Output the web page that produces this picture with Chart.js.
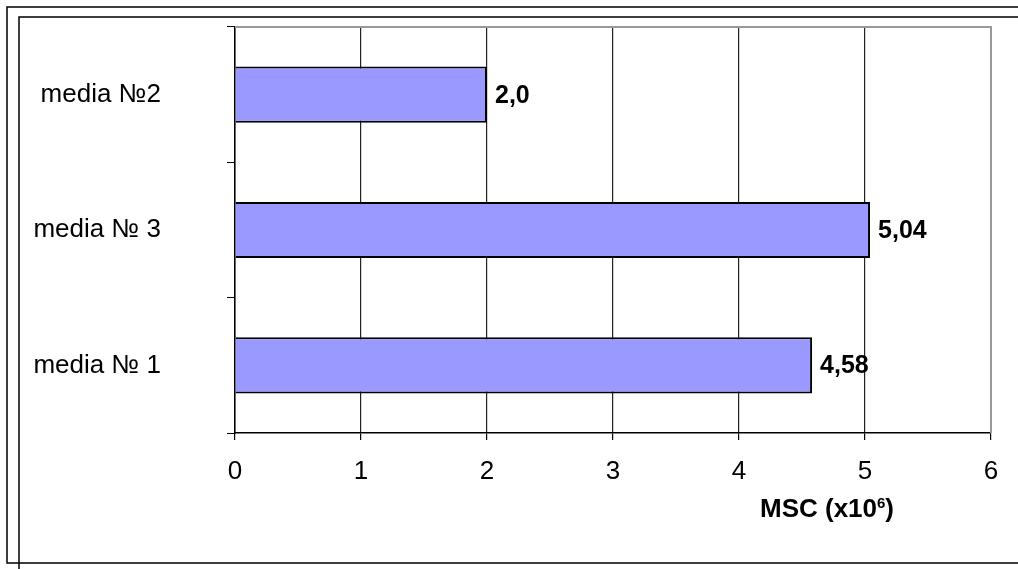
<!DOCTYPE html>
<html lang="en">
<head>
    <meta charset="UTF-8">
    <title>MSC by media</title>
    <script src="https://cdn.jsdelivr.net/npm/chart.js"></script>
    <style>
        body {
            margin: 0;
            background-color: #ffffff;
        }
        #mscChart {
            display: block;
        }
    </style>
</head>
<body>
    <canvas id="mscChart" width="1018" height="569"></canvas>

<script>
    // values (top to bottom)
    const categories = ['media №2', 'media № 3', 'media № 1'];
    const mscValues = [2.0, 5.04, 4.58];
    const valueLabels = ['2,0', '5,04', '4,58'];
    const xMin = 0;
    const xMax = 6;
    const xStep = 1;

    const FONT = "'Liberation Sans', Arial, sans-serif";

    // frames around the chart, value labels and axis title
    const decorations = {
        id: 'decorations',
        afterDatasetsDraw(chart) {
            const ctx = chart.ctx;
            const meta = chart.getDatasetMeta(0);
            ctx.save();
            ctx.font = 'bold 25px ' + FONT;
            ctx.fillStyle = '#000';
            ctx.textBaseline = 'middle';
            ctx.textAlign = 'left';
            meta.data.forEach((bar, i) => {
                ctx.fillText(valueLabels[i], bar.x + 8, bar.y + 1);
            });
            ctx.restore();
        },
        afterDraw(chart) {
            const ctx = chart.ctx;
            const area = chart.chartArea;
            ctx.save();

            // plot area border, top and right
            ctx.strokeStyle = '#999';
            ctx.lineWidth = 2;
            ctx.beginPath();
            ctx.moveTo(area.left, area.top);
            ctx.lineTo(area.right, area.top);
            ctx.lineTo(area.right, area.bottom);
            ctx.stroke();

            // outer frames
            ctx.strokeStyle = '#000';
            ctx.lineWidth = 1.5;
            ctx.beginPath();
            ctx.moveTo(1018, 7);
            ctx.lineTo(7, 7);
            ctx.lineTo(7, 563);
            ctx.lineTo(1018, 563);
            ctx.moveTo(1018, 17);
            ctx.lineTo(19, 17);
            ctx.lineTo(19, 569);
            ctx.stroke();

            // axis title MSC (x10^6)
            ctx.fillStyle = '#000';
            ctx.textBaseline = 'alphabetic';
            ctx.textAlign = 'left';
            const mainFont = 'bold 26px ' + FONT;
            const supFont = 'bold 15px ' + FONT;
            const a = 'MSC (x10', s = '6', b = ')';
            ctx.font = mainFont;
            const wa = ctx.measureText(a).width;
            const wb = ctx.measureText(b).width;
            ctx.font = supFont;
            const ws = ctx.measureText(s).width;
            let x = 827 - (wa + ws + wb) / 2;
            const y = 517;
            ctx.font = mainFont;
            ctx.fillText(a, x, y);
            x += wa;
            ctx.font = supFont;
            ctx.fillText(s, x, y - 9);
            x += ws;
            ctx.font = mainFont;
            ctx.fillText(b, x, y);

            ctx.restore();
        }
    };

    new Chart(document.getElementById('mscChart').getContext('2d'), {
        type: 'bar',
        data: {
            labels: categories,
            datasets: [{
                data: mscValues,
                backgroundColor: '#9999FF',
                borderColor: '#000',
                borderWidth: 2,
                categoryPercentage: 1,
                barPercentage: 0.415
            }]
        },
        options: {
            indexAxis: 'y',
            responsive: false,
            animation: false,
            layout: {
                padding: { top: 27, right: 27, left: 0, bottom: 0 }
            },
            plugins: {
                legend: { display: false },
                tooltip: { enabled: false }
            },
            scales: {
                x: {
                    min: xMin,
                    max: xMax,
                    ticks: {
                        stepSize: xStep,
                        color: '#000',
                        padding: 16,
                        font: { family: FONT, size: 26 }
                    },
                    grid: {
                        color: '#222',
                        lineWidth: 1.2,
                        tickLength: 7,
                        tickColor: '#000'
                    },
                    border: { display: true, color: '#000', width: 1.5 },
                    afterFit(scale) {
                        scale.height = 136;
                        scale.paddingLeft = 0;
                        scale.paddingRight = 0;
                    }
                },
                y: {
                    ticks: {
                        color: '#000',
                        padding: 66,
                        font: { family: FONT, size: 26 }
                    },
                    grid: {
                        offset: true,
                        drawOnChartArea: false,
                        tickLength: 8,
                        color: '#000'
                    },
                    border: { display: true, color: '#000', width: 1.5 },
                    afterFit(scale) {
                        scale.width = 235;
                        scale.paddingTop = 0;
                        scale.paddingBottom = 0;
                    }
                }
            }
        },
        plugins: [decorations]
    });
</script>
</body>
</html>
